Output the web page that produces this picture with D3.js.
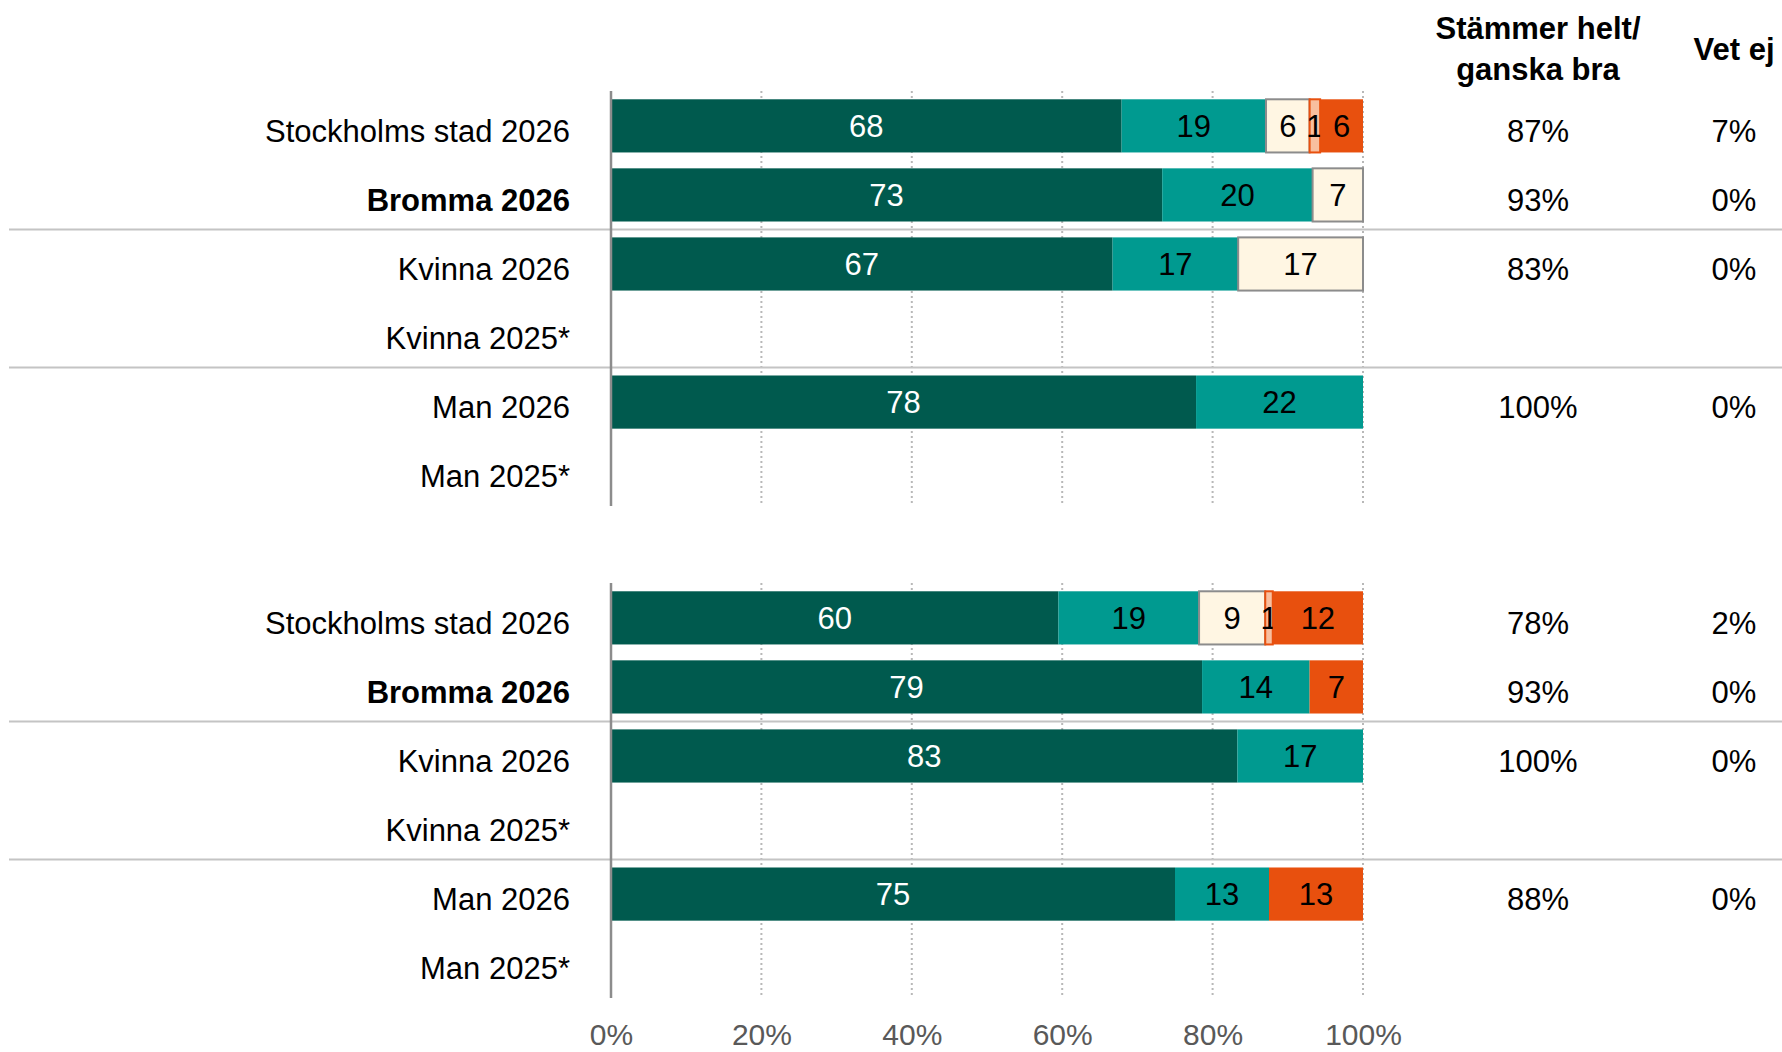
<!DOCTYPE html>
<html>
<head>
<meta charset="utf-8">
<script src="https://cdn.jsdelivr.net/npm/d3@7"></script>
<style>
  body { margin: 0; background: #fff; }
  text { font-family: "Liberation Sans", Arial, sans-serif; }
</style>
</head>
<body>
<script>
// rows (same in both panels)
const categories = ["Stockholms stad 2026", "Bromma 2026", "Kvinna 2026", "Kvinna 2025*", "Man 2026", "Man 2025*"];
const boldRows = ["Bromma 2026"];
const keys = ["helt", "ganskaBra", "varken", "ganskaDaligt", "inteAlls"];

// panel 1
const p1Helt        = [67.9, 73.3, 66.7, null, 77.8, null];
const p1GanskaBra   = [19.2, 20.0, 16.7, null, 22.2, null];
const p1Varken      = [5.8, 6.7, 16.6, null, 0, null];
const p1GanskaDalig = [1.4, 0, 0, null, 0, null];
const p1InteAlls    = [5.7, 0, 0, null, 0, null];
const p1Total       = [87, 93, 83, null, 100, null];
const p1VetEj       = [7, 0, 0, null, 0, null];

// panel 2
const p2Helt        = [59.5, 78.6, 83.3, null, 75.0, null];
const p2GanskaBra   = [18.7, 14.3, 16.7, null, 12.5, null];
const p2Varken      = [8.8, 0, 0, null, 0, null];
const p2GanskaDalig = [1.0, 0, 0, null, 0, null];
const p2InteAlls    = [12.0, 7.1, 0, null, 12.5, null];
const p2Total       = [78, 93, 100, null, 88, null];
const p2VetEj       = [2, 0, 0, null, 0, null];

const xTicks = [0, 20, 40, 60, 80, 100];

const fill = {helt: "#005a4e", ganskaBra: "#009a90", varken: "#fff6e3", ganskaDaligt: "#f8bf9f", inteAlls: "#e8500e"};
const stroke = {varken: "#8c8c8c", ganskaDaligt: "#e8500e"};
const textCol = {helt: "#fff"};

const W = 1782, H = 1052;
const svg = d3.select("body").append("svg").attr("width", W).attr("height", H);

const x = d3.scaleLinear().domain([0, 100]).range([611, 1363]);
const colTotal = 1538, colVetEj = 1734;

function rows(cols, total, vetej) {
  return categories.map((c, i) => {
    const r = {cat: c, total: total[i], vetej: vetej[i]};
    keys.forEach((k, j) => r[k] = cols[j][i] || 0);
    return r;
  });
}

const panels = [
  {range: [91, 506], data: rows([p1Helt, p1GanskaBra, p1Varken, p1GanskaDalig, p1InteAlls], p1Total, p1VetEj)},
  {range: [583, 998], data: rows([p2Helt, p2GanskaBra, p2Varken, p2GanskaDalig, p2InteAlls], p2Total, p2VetEj)}
];

const stack = d3.stack().keys(keys);

// header
const hdr = svg.append("g").attr("font-size", 31).attr("font-weight", "bold").attr("text-anchor", "middle").attr("fill", "#000");
hdr.append("text").attr("x", colTotal).attr("y", 39).text("Stämmer helt/");
hdr.append("text").attr("x", colTotal).attr("y", 80).text("ganska bra");
hdr.append("text").attr("x", colVetEj).attr("y", 60).text("Vet ej");

panels.forEach(p => {
  const y = d3.scaleBand().domain(categories).range(p.range).paddingInner(0.23).paddingOuter(0.12);
  const g = svg.append("g");
  const gap = y.step() * 0.23 / 2;

  // gridlines
  g.selectAll(".grid").data(xTicks.slice(1)).enter().append("line")
    .attr("x1", d => x(d)).attr("x2", d => x(d))
    .attr("y1", p.range[0]).attr("y2", p.range[1])
    .attr("stroke", "#b8b8b8").attr("stroke-width", 2).attr("stroke-dasharray", "2,3");

  // separators between groups
  g.selectAll(".sep").data(["Kvinna 2026", "Man 2026"]).enter().append("line")
    .attr("x1", 9).attr("x2", W)
    .attr("y1", d => y(d) - gap).attr("y2", d => y(d) - gap)
    .attr("stroke", "#c4c4c4").attr("stroke-width", 2);

  const series = stack(p.data);
  const seg = g.selectAll(".series").data(series).enter().append("g");
  seg.selectAll("rect").data(s => s.map(d => Object.assign(d, {key: s.key})).filter(d => d[1] - d[0] > 0))
    .enter().append("rect")
    .attr("x", d => x(d[0]))
    .attr("width", d => x(d[1]) - x(d[0]))
    .attr("y", d => y(d.data.cat))
    .attr("height", y.bandwidth())
    .attr("fill", d => fill[d.key])
    .attr("stroke", d => stroke[d.key] || "none")
    .attr("stroke-width", 2);

  seg.selectAll("text").data(s => s.filter(d => d[1] - d[0] > 0))
    .enter().append("text")
    .attr("x", d => x((d[0] + d[1]) / 2))
    .attr("y", d => y(d.data.cat) + y.bandwidth() / 2)
    .attr("dy", "0.36em")
    .attr("text-anchor", "middle")
    .attr("font-size", 31)
    .attr("fill", d => textCol[d.key] || "#000")
    .text(d => Math.round(d[1] - d[0]));

  // axis line
  g.append("line").attr("x1", x(0)).attr("x2", x(0))
    .attr("y1", p.range[0]).attr("y2", p.range[1])
    .attr("stroke", "#8c8c8c").attr("stroke-width", 2.5);

  // category labels
  g.selectAll(".cat").data(categories).enter().append("text")
    .attr("x", 570)
    .attr("y", d => y(d) + y.bandwidth() / 2 + 16)
    .attr("text-anchor", "end")
    .attr("font-size", 31)
    .attr("font-weight", d => boldRows.includes(d) ? "bold" : "normal")
    .attr("fill", "#000")
    .text(d => d);

  // totals
  const withVals = p.data.filter(d => d.total != null);
  g.selectAll(".tot").data(withVals).enter().append("text")
    .attr("x", colTotal).attr("y", d => y(d.cat) + y.bandwidth() / 2 + 16)
    .attr("text-anchor", "middle").attr("font-size", 31).attr("fill", "#000")
    .text(d => d.total + "%");
  g.selectAll(".vet").data(withVals).enter().append("text")
    .attr("x", colVetEj).attr("y", d => y(d.cat) + y.bandwidth() / 2 + 16)
    .attr("text-anchor", "middle").attr("font-size", 31).attr("fill", "#000")
    .text(d => d.vetej + "%");
});

// x axis labels
const xAxis = svg.append("g").attr("transform", "translate(0,1000)")
  .call(d3.axisBottom(x).tickValues(xTicks).tickFormat(d => d + "%").tickSize(0).tickPadding(24));
xAxis.select(".domain").remove();
xAxis.selectAll("text").attr("font-size", 30).attr("fill", "#595959")
  .attr("font-family", "Liberation Sans, Arial, sans-serif");
</script>
</body>
</html>
